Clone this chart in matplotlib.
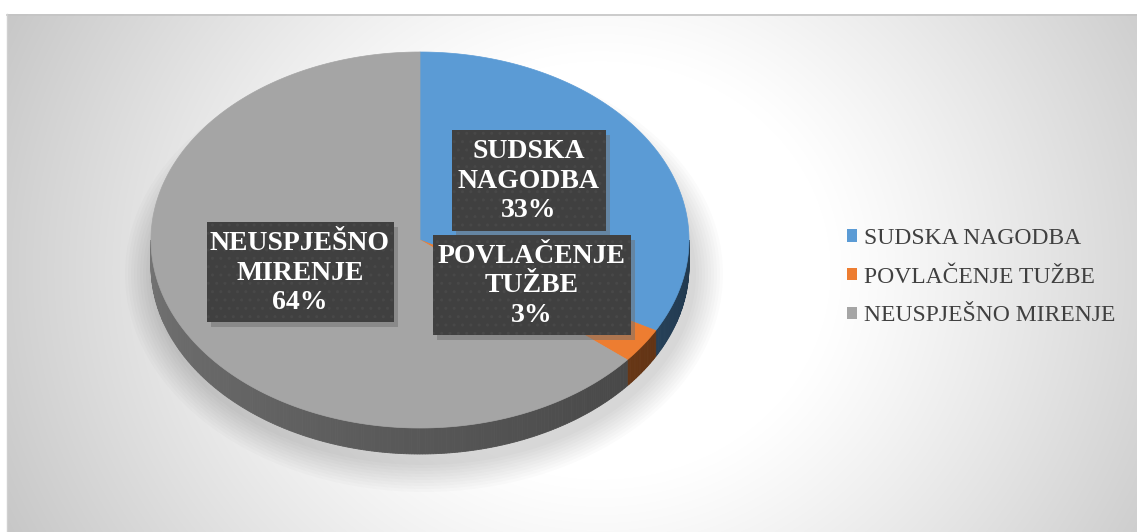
import numpy as np
import matplotlib
matplotlib.use("Agg")
import matplotlib.pyplot as plt
from matplotlib.patches import Polygon, Rectangle, Ellipse, Patch
from matplotlib.colors import to_rgb

# data
kategorije = ["SUDSKA NAGODBA", "POVLAČENJE TUŽBE", "NEUSPJEŠNO MIRENJE"]
oznake = ["SUDSKA\nNAGODBA\n33%", "POVLAČENJE\nTUŽBE\n3%", "NEUSPJEŠNO\nMIRENJE\n64%"]
udjeli = [33, 3, 64]
boje = ["#5B9BD5", "#ED7D31", "#A5A5A5"]

W, H = 1137, 532
fig = plt.figure(figsize=(W / 100, H / 100), dpi=100)
ax = fig.add_axes([0, 0, 1, 1])
ax.set_xlim(0, W)
ax.set_ylim(H, 0)
ax.axis("off")

# background with radial gradient
x0, y0 = 7, 14
xx, yy = np.meshgrid(np.arange(x0, W), np.arange(y0, H))
r = np.sqrt((xx - 600.0) ** 2 + ((yy - 270.0) * 1.1) ** 2)
t = np.clip((r - 230) / 450, 0, 1) ** 1.1
v = (255 - (255 - 196) * t) / 255
ax.imshow(np.dstack([v, v, v]), extent=[x0, W, H, y0], aspect="auto",
          interpolation="bilinear", zorder=0)
ax.plot([x0, W], [y0 + 0.5, y0 + 0.5], color="#c4c4c4", lw=1.2, zorder=1)
ax.plot([x0, x0], [y0, H], color="#d0d0d0", lw=1, zorder=1)

# pie geometry (pixels)
cx, cy, rx, ry, dubina = 420, 240, 269, 188, 26

# soft shadow under the pie
for k in range(10):
    ax.add_patch(Ellipse((cx + 4, cy + dubina + 8), 2 * rx + 6 + k * 6, 2 * ry + 6 + k * 6,
                         fc="black", ec="none", alpha=0.016, zorder=1))

udio = np.array(udjeli, dtype=float) / sum(udjeli)
granice = np.concatenate([[0], np.cumsum(udio)]) * 2 * np.pi


def tocka(th, dy=0):
    return cx + rx * np.sin(th), cy - ry * np.cos(th) + dy


# sides (front half only)
for i, boja in enumerate(boje):
    a, b = max(granice[i], np.pi / 2), min(granice[i + 1], 3 * np.pi / 2)
    if b <= a:
        continue
    n = max(int((b - a) / 0.01), 2)
    ths = np.linspace(a, b, n + 1)
    base = np.array(to_rgb(boja))
    for t0, t1 in zip(ths[:-1], ths[1:]):
        f = 0.36 + 0.34 * ((t0 + t1) / 2 - np.pi / 2) / np.pi
        p0, p1 = tocka(t0), tocka(t1)
        q1, q0 = tocka(t1, dubina), tocka(t0, dubina)
        ax.add_patch(Polygon([p0, p1, q1, q0], closed=True, fc=base * f,
                             ec=base * f, lw=0.6, zorder=2))

# top face
for i, boja in enumerate(boje):
    ths = np.linspace(granice[i], granice[i + 1], max(int((granice[i + 1] - granice[i]) / 0.01), 2) + 1)
    pts = [(cx, cy)] + [tocka(th) for th in ths]
    ax.add_patch(Polygon(pts, closed=True, fc=boja, ec=boja, lw=0.5, zorder=3))

# data labels
polozaj = [(529, 180, 154, 101), (532, 285, 198, 100), (300, 272, 187, 100)]
for tekst, (lx, ly, bw, bh) in zip(oznake, polozaj):
    ax.add_patch(Rectangle((lx - bw / 2 + 4, ly - bh / 2 + 5), bw, bh, fc="#707070",
                           ec="none", alpha=0.5, zorder=4))
    ax.add_patch(Rectangle((lx - bw / 2, ly - bh / 2), bw, bh, fc="#404040",
                           ec="#484848", lw=0, hatch="..", zorder=5))
    ax.text(lx, ly + 1, tekst, ha="center", va="center", color="white",
            fontsize=20, fontweight="bold", family="Liberation Serif",
            linespacing=1.22, zorder=6)

# legend
ruke = [Patch(fc=b, ec="none") for b in boje]
leg = ax.legend(ruke, kategorije, loc="center left", bbox_to_anchor=(0.726, 0.479),
                frameon=False, prop={"family": "Liberation Serif", "size": 17},
                labelcolor="#404040", handlelength=0.42, handleheight=0.42,
                handletextpad=0.3, labelspacing=0.75)
leg.set_zorder(7)

fig.savefig("out.png", dpi=100)
